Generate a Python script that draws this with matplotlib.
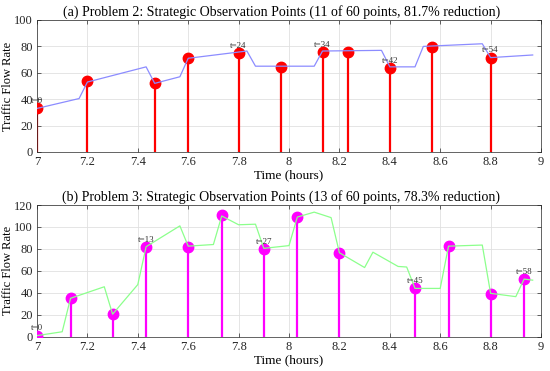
#!/usr/bin/env python3
"""
Strategic observation points for two traffic flow problems,
drawn as stems over the piecewise flow profile.
"""
import matplotlib
matplotlib.use('Agg')
import matplotlib.pyplot as plt

plt.rcParams['font.family'] = ['Liberation Serif', 'DejaVu Serif']

# Problem 2: flow profile vertices (hours, flow)
p2_line_t = [7.0, 7.167, 7.2, 7.433, 7.467, 7.567, 7.6, 7.833, 7.867, 8.1,
             8.133, 8.367, 8.4, 8.5, 8.533, 8.767, 8.8, 8.967]
p2_line_v = [33, 40.5, 53, 64.5, 52, 57, 71, 76.5, 65, 65,
             76.5, 77, 64.5, 64.5, 80, 82, 71.5, 73.5]
# Problem 2: selected observation points
p2_pts_t = [7.0, 7.2, 7.467, 7.6, 7.8, 7.967, 8.133, 8.233, 8.4, 8.567, 8.8]
p2_pts_v = [33, 53.5, 52, 71.5, 75, 64.5, 75.5, 76, 63.3, 79.7, 71.4]
p2_labels = {0: 't=0', 4: 't=24', 6: 't=34', 8: 't=42', 10: 't=54'}

# Problem 3: flow profile vertices
p3_line_t = [7.0, 7.1, 7.133, 7.267, 7.3, 7.4, 7.433, 7.567, 7.6, 7.7,
             7.733, 7.8, 7.867, 7.9, 8.0, 8.033, 8.1, 8.167, 8.2, 8.3,
             8.333, 8.433, 8.467, 8.5, 8.6, 8.633, 8.767, 8.8, 8.9, 8.933,
             8.967]
p3_line_v = [1, 4.5, 35, 45.5, 20.5, 47.5, 82, 101, 82.5, 84,
             110, 102, 102.5, 80.5, 83, 109, 113.5, 108.5, 76.5, 63,
             77, 64, 63.5, 44, 44, 82.5, 83.5, 39.5, 36.5, 52.5,
             51.5]
# Problem 3: selected observation points
p3_pts_t = [7.0, 7.133, 7.3, 7.433, 7.6, 7.733, 7.9, 8.033, 8.2, 8.5,
            8.633, 8.8, 8.933]
p3_pts_v = [1, 35, 20.5, 81.5, 81.5, 110.5, 79.5, 109.5, 76.5, 44,
            82.5, 39, 52.5]
p3_labels = {0: 't=0', 3: 't=13', 6: 't=27', 9: 't=45', 12: 't=58'}

fig = plt.figure(figsize=(5.5, 3.71), dpi=100)
ax1 = fig.add_axes([37 / 550, 1 - 152 / 371, 504 / 550, 132 / 371])
ax2 = fig.add_axes([37 / 550, 1 - 336.7 / 371, 504 / 550, 131.7 / 371])

panels = [
    (ax1, p2_line_t, p2_line_v, p2_pts_t, p2_pts_v, p2_labels,
     (0.55, 0.55, 1.0), 'red', 100, 20,
     '(a) Problem 2: Strategic Observation Points (11 of 60 points, 81.7% reduction)'),
    (ax2, p3_line_t, p3_line_v, p3_pts_t, p3_pts_v, p3_labels,
     (0.55, 1.0, 0.55), 'magenta', 120, 20,
     '(b) Problem 3: Strategic Observation Points (13 of 60 points, 78.3% reduction)'),
]

for ax, lt, lv, pt, pv, labs, lcol, scol, ymax, ystep, title in panels:
    # stems and markers
    ax.vlines(pt, 0, pv, color=scol, linewidth=1.6, zorder=2)
    ax.plot(pt, pv, 'o', color=scol, markersize=7.5, zorder=3)
    # profile drawn on top
    ax.plot(lt, lv, color=lcol, linewidth=0.9, zorder=4)
    for i, s in labs.items():
        ax.text(pt[i], pv[i] + ymax * 0.025, s, fontsize=6.5, color='0.2',
                ha='center', va='bottom', zorder=5)

    ax.set_xlim(7, 9)
    ax.set_ylim(0, ymax)
    ax.set_xticks([7, 7.2, 7.4, 7.6, 7.8, 8, 8.2, 8.4, 8.6, 8.8, 9])
    ax.set_xticklabels(['7', '7.2', '7.4', '7.6', '7.8', '8', '8.2', '8.4',
                        '8.6', '8.8', '9'])
    ax.set_yticks(range(0, ymax + 1, ystep))
    ax.grid(True, color='0.88', linewidth=0.6)
    ax.set_axisbelow(True)
    ax.tick_params(direction='in', top=True, right=True, labelsize=9,
                   length=3, width=0.5, colors='0.15', pad=3)
    for sp in ax.spines.values():
        sp.set_color('0.15')
        sp.set_linewidth(0.5)
    ax.set_title(title, fontsize=10, pad=3, x=0.485)
    ax.set_xlabel('Time (hours)', fontsize=9.5, labelpad=1)
    ax.set_ylabel('Traffic Flow Rate', fontsize=9)
    ax.yaxis.set_label_coords(-0.046, 0.5)

fig.savefig('out.png', dpi=100)
